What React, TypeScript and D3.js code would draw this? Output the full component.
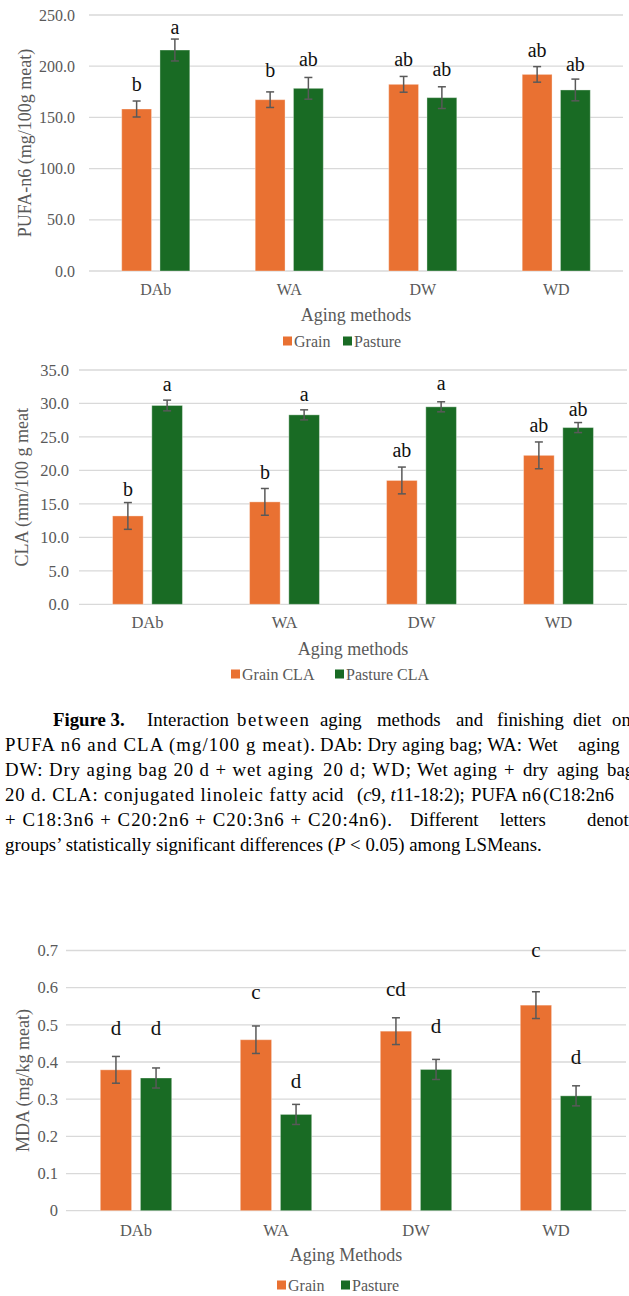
import React from 'react';
import * as d3 from 'd3';

// aging methods on the x axis
const categories = ['DAb', 'WA', 'DW', 'WD'];
const series = ['Grain', 'Pasture'];

// PUFA-n6 (mg/100g meat)
const pufaGrain = [158.2, 167.3, 182.3, 192.0];
const pufaGrainErr = [7.8, 7.6, 7.7, 7.6];
const pufaPasture = [215.8, 178.4, 169.3, 176.8];
const pufaPastureErr = [10.7, 10.6, 10.6, 10.6];
const pufaGrainLetters = ['b', 'b', 'ab', 'ab'];
const pufaPastureLetters = ['a', 'ab', 'ab', 'ab'];
const pufaGrainLetterAt = [176, 189, 200.5, 209.3];
const pufaPastureLetterAt = [231.2, 200.5, 190.7, 195.6];
const pufaTicks = [0, 50, 100, 150, 200, 250];

// CLA (mm/100 g meat)
const claGrain = [13.2, 15.3, 18.5, 22.25];
const claGrainErr = [2.0, 2.0, 2.0, 2.0];
const claPasture = [29.7, 28.3, 29.5, 26.4];
const claPastureErr = [0.8, 0.75, 0.75, 0.75];
const claGrainLetters = ['b', 'b', 'ab', 'ab'];
const claPastureLetters = ['a', 'a', 'a', 'ab'];
const claGrainLetterAt = [16.2, 18.7, 22.0, 25.7];
const claPastureLetterAt = [31.9, 30.3, 32.0, 28.2];
const claTicks = [0, 5, 10, 15, 20, 25, 30, 35];

// MDA (mg/kg meat)
const mdaGrain = [0.379, 0.46, 0.483, 0.553];
const mdaGrainErr = [0.036, 0.037, 0.036, 0.036];
const mdaPasture = [0.357, 0.259, 0.38, 0.309];
const mdaPastureErr = [0.027, 0.027, 0.027, 0.027];
const mdaGrainLetters = ['d', 'c', 'cd', 'c'];
const mdaPastureLetters = ['d', 'd', 'd', 'd'];
const mdaGrainLetterAt = [0.472, 0.57, 0.578, 0.683];
const mdaPastureLetterAt = [0.472, 0.331, 0.479, 0.394];
const mdaTicks = [0, 0.1, 0.2, 0.3, 0.4, 0.5, 0.6, 0.7];

const FONT = '"Liberation Serif", "Times New Roman", Times, serif';
const GREY = '#595959';
const colors = d3.scaleOrdinal<string, string>().domain(series).range(['#E97132', '#196B24']);

type ChartProps = {
  left: number;
  right: number;
  top: number;
  bottom: number;
  ticks: number[];
  fmt: (v: number) => string;
  values: number[][];
  errors: number[][];
  letters: string[][];
  letterAt: number[][];
  legendLabels: string[];
  legendX: number[];
  tickX: number;
  yTitle: string;
  yTitleX: number;
  xTitle: string;
  xTickY: number;
  xTitleY: number;
  legendY: number;
  tickSize: number;
  letterSize: number;
};

const BarChart = (p: ChartProps) => {
  const y = d3.scaleLinear().domain([0, p.ticks[p.ticks.length - 1]]).range([p.bottom, p.top]);
  const x0 = d3.scaleBand().domain(categories).range([p.left, p.right]);
  const bw = x0.bandwidth();
  const groupW = bw * 0.51;
  const x1 = d3.scaleBand().domain(series).range([-groupW / 2, groupW / 2]).paddingInner(0.22);

  return (
    <g>
      {p.ticks.map((t) => (
        <g key={t}>
          <line x1={p.left} x2={p.right} y1={y(t)} y2={y(t)} stroke="#D9D9D9" strokeWidth={1.3} />
          <text x={p.tickX} y={y(t)} dy="0.35em" textAnchor="end" fontSize={p.tickSize} fill={GREY}>
            {p.fmt(t)}
          </text>
        </g>
      ))}
      {categories.map((c, i) => (
        <g key={c} transform={`translate(${x0(c)! + bw / 2},0)`}>
          {series.map((s, j) => {
            const v = p.values[j][i];
            const e = p.errors[j][i];
            const bx = x1(s)!;
            const cx = bx + x1.bandwidth() / 2;
            return (
              <g key={s}>
                <rect x={bx} y={y(v)} width={x1.bandwidth()} height={y(0) - y(v)} fill={colors(s)}
                  stroke="#ffffff" strokeOpacity={0.35} strokeWidth={1} />
                <g stroke={GREY} strokeWidth={1.5}>
                  <line x1={cx} x2={cx} y1={y(v + e)} y2={y(v - e)} />
                  <line x1={cx - 4} x2={cx + 4} y1={y(v + e)} y2={y(v + e)} />
                  <line x1={cx - 4} x2={cx + 4} y1={y(v - e)} y2={y(v - e)} />
                </g>
                <text x={cx} y={y(p.letterAt[j][i])} textAnchor="middle" fontSize={p.letterSize} fill="#111">
                  {p.letters[j][i]}
                </text>
              </g>
            );
          })}
          <text x={0} y={p.xTickY} textAnchor="middle" fontSize={p.tickSize} fill={GREY}>{c}</text>
        </g>
      ))}
      <text transform={`translate(${p.yTitleX},${(p.top + p.bottom) / 2}) rotate(-90)`} textAnchor="middle"
        dominantBaseline="central" fontSize={18} fill={GREY}>
        {p.yTitle}
      </text>
      <text x={(p.left + p.right) / 2} y={p.xTitleY} textAnchor="middle" fontSize={18} fill={GREY}>
        {p.xTitle}
      </text>
      {series.map((s, j) => (
        <g key={s} transform={`translate(${p.legendX[j]},${p.legendY})`}>
          <rect x={0} y={-4.5} width={9} height={9} fill={colors(s)} />
          <text x={11} y={0} dy="0.35em" fontSize={16} fill={GREY}>{p.legendLabels[j]}</text>
        </g>
      ))}
    </g>
  );
};

// justified caption: each piece starts where it does in the figure
const Caption = () => (
  <g fontSize={18.8} fill="#000">
    <text y={726}>
      <tspan x={53} fontWeight="bold">Figure 3.</tspan>
      <tspan x={147} textLength={82} lengthAdjust="spacing">Interaction</tspan>
      <tspan x={237} textLength={72} lengthAdjust="spacing">between</tspan>
      <tspan x={320}>aging</tspan>
      <tspan x={377}>methods</tspan>
      <tspan x={456}>and</tspan>
      <tspan x={497}>finishing</tspan>
      <tspan x={573}>diet</tspan>
      <tspan x={612}>on</tspan>
    </text>
    <text y={751}>
      <tspan x={5} textLength={310} lengthAdjust="spacing">PUFA n6 and CLA (mg/100 g meat).</tspan>
      <tspan x={320} textLength={202} lengthAdjust="spacing">DAb: Dry aging bag; WA:</tspan>
      <tspan x={528}>Wet</tspan>
      <tspan x={578}>aging</tspan>
    </text>
    <text y={776}>
      <tspan x={5} textLength={308} lengthAdjust="spacing">DW: Dry aging bag 20 d + wet aging</tspan>
      <tspan x={323} textLength={88} lengthAdjust="spacing">20 d; WD;</tspan>
      <tspan x={417} textLength={80} lengthAdjust="spacing">Wet aging</tspan>
      <tspan x={504}>+</tspan>
      <tspan x={523}>dry</tspan>
      <tspan x={557}>aging</tspan>
      <tspan x={607}>bag</tspan>
    </text>
    <text y={801}>
      <tspan x={5} textLength={302} lengthAdjust="spacing">20 d. CLA: conjugated linoleic fatty</tspan>
      <tspan x={312}>acid</tspan>
      <tspan x={357}>(</tspan><tspan fontStyle="italic">c</tspan><tspan>9, </tspan>
      <tspan fontStyle="italic">t</tspan><tspan>11-18:2);</tspan>
      <tspan x={471}>PUFA</tspan>
      <tspan x={522}>n6</tspan>
      <tspan x={543}>(C18:2n6</tspan>
    </text>
    <text y={826}>
      <tspan x={5} textLength={387} lengthAdjust="spacing">+ C18:3n6 + C20:2n6 + C20:3n6 + C20:4n6).</tspan>
      <tspan x={410}>Different</tspan>
      <tspan x={500}>letters</tspan>
      <tspan x={587}>denote</tspan>
    </text>
    <text y={851}>
      <tspan x={5}>groups’ statistically significant differences (</tspan>
      <tspan fontStyle="italic">P</tspan>
      <tspan> &lt; 0.05) among LSMeans.</tspan>
    </text>
  </g>
);

const fmt1 = d3.format('.1f');
const fmtMda = (v: number) => (v === 0 ? '0' : d3.format('.1f')(v));

export default function App() {
  return (
    <svg width={629} height={1296}
      style={{ position: 'absolute', left: 0, top: 0, background: '#fff', fontFamily: FONT }}>
      <BarChart left={89} right={623} top={15} bottom={271} ticks={pufaTicks} fmt={fmt1}
        values={[pufaGrain, pufaPasture]} errors={[pufaGrainErr, pufaPastureErr]}
        letters={[pufaGrainLetters, pufaPastureLetters]} letterAt={[pufaGrainLetterAt, pufaPastureLetterAt]}
        legendLabels={['Grain', 'Pasture']} legendX={[283, 343]} tickX={75}
        yTitle="PUFA-n6 (mg/100g meat)" yTitleX={25} xTitle="Aging methods"
        xTickY={295} xTitleY={321} legendY={341} tickSize={16} letterSize={20} />
      <BarChart left={79} right={627} top={370} bottom={604.3} ticks={claTicks} fmt={fmt1}
        values={[claGrain, claPasture]} errors={[claGrainErr, claPastureErr]}
        letters={[claGrainLetters, claPastureLetters]} letterAt={[claGrainLetterAt, claPastureLetterAt]}
        legendLabels={['Grain CLA', 'Pasture CLA']} legendX={[231, 335]} tickX={69}
        yTitle="CLA (mm/100 g meat" yTitleX={22} xTitle="Aging methods"
        xTickY={628} xTitleY={655} legendY={674} tickSize={16.5} letterSize={20} />
      <Caption />
      <BarChart left={66} right={626} top={950.5} bottom={1210.7} ticks={mdaTicks} fmt={fmtMda}
        values={[mdaGrain, mdaPasture]} errors={[mdaGrainErr, mdaPastureErr]}
        letters={[mdaGrainLetters, mdaPastureLetters]} letterAt={[mdaGrainLetterAt, mdaPastureLetterAt]}
        legendLabels={['Grain', 'Pasture']} legendX={[277, 341]} tickX={58}
        yTitle="MDA (mg/kg meat)" yTitleX={23} xTitle="Aging Methods"
        xTickY={1236} xTitleY={1261} legendY={1285} tickSize={16.5} letterSize={21} />
    </svg>
  );
}
